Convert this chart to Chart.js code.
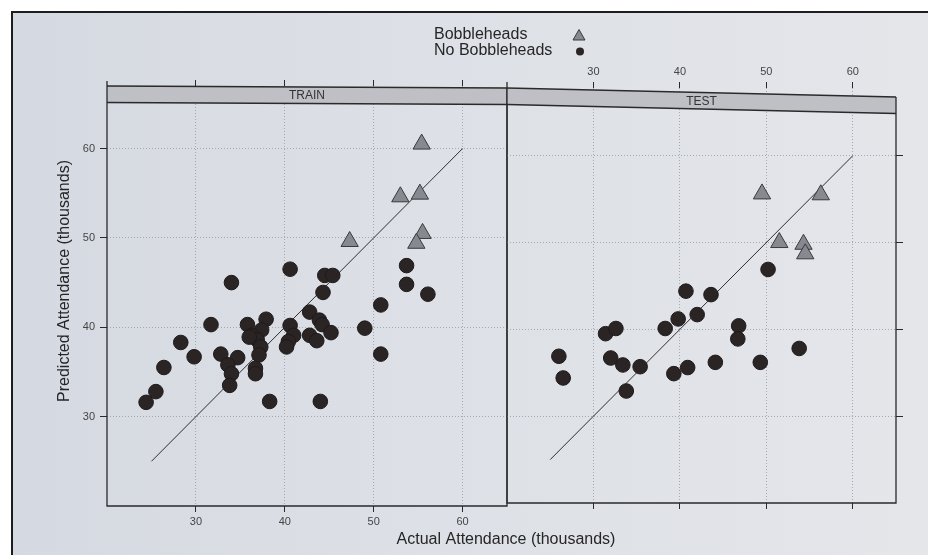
<!DOCTYPE html>
<html>
<head>
<meta charset="utf-8">
<script src="https://cdn.jsdelivr.net/npm/chart.js@4.4.1/dist/chart.umd.min.js"></script>
<style>
  html, body { margin: 0; padding: 0; background: #fff; }
  #page { position: relative; width: 928px; height: 555px; overflow: hidden; }
  #paper {
    position: absolute; left: 11px; top: 11px; right: 0; bottom: 0;
    border-top: 2px solid #1e1e1e; border-left: 2px solid #1e1e1e;
    background: linear-gradient(90deg, #d5d9e1 0%, #dde0e6 45%, #e4e6ea 100%);
  }
  canvas { position: absolute; left: 0; top: 0; }
</style>
</head>
<body>
<div id="page">
  <div id="paper"></div>
  <canvas id="trainChart" width="928" height="555"></canvas>
  <canvas id="testChart" width="928" height="555"></canvas>
</div>
<script>
// ---- data (thousands) ----
const seriesNames = ['Bobbleheads', 'No Bobbleheads'];
const panelNames = ['TRAIN', 'TEST'];
const tickValues = [30, 40, 50, 60];
const refLine = [25, 60]; // y = x reference

const trainBobbleX = [55.4, 53.0, 55.2, 47.3, 55.5, 54.8];
const trainBobbleY = [60.5, 54.6, 54.9, 49.6, 50.5, 49.4];

const trainNoX = [40.6, 34.0, 44.5, 45.4, 44.3, 53.7, 53.7, 56.1, 50.8, 42.8, 43.9,
                  44.2, 45.2, 49.0, 31.7, 35.8, 37.9, 37.4, 36.3, 36.9, 37.3, 40.6,
                  41.0, 40.4, 40.2, 42.8, 43.6, 37.1, 28.3, 29.8, 32.8, 34.7, 33.6,
                  34.0, 36.7, 36.7, 33.8, 26.4, 25.5, 24.4, 38.3, 44.0, 50.8, 36.0];
const trainNoY = [46.5, 45.0, 45.8, 45.8, 43.9, 46.9, 44.8, 43.7, 42.5, 41.7, 40.8,
                  40.3, 39.4, 39.9, 40.3, 40.3, 40.9, 39.7, 39.1, 38.6, 37.8, 40.2,
                  39.1, 38.4, 37.8, 39.1, 38.5, 36.9, 38.3, 36.7, 37.0, 36.6, 35.8,
                  34.8, 35.4, 34.8, 33.5, 35.5, 32.8, 31.6, 31.7, 31.7, 37.0, 38.9];

const testBobbleX = [49.5, 56.3, 51.5, 54.3, 54.5];
const testBobbleY = [55.6, 55.5, 50.0, 49.8, 48.7];

const testNoX = [50.2, 40.7, 43.6, 39.8, 42.0, 38.3, 46.8, 46.7, 31.4, 32.6, 26.0,
                 26.5, 32.0, 33.4, 35.4, 33.8, 39.3, 40.9, 44.1, 49.3, 53.8];
const testNoY = [46.9, 44.4, 44.0, 41.2, 41.7, 40.1, 40.4, 38.9, 39.5, 40.1, 36.9,
                 34.4, 36.7, 35.9, 35.7, 32.9, 34.9, 35.6, 36.2, 36.2, 37.8];

// ---- helpers ----
const FONT = "'Liberation Sans', Arial, Helvetica, sans-serif";
const INK = '#2a2a2a';
const TRI_FILL = '#868990';
const DOT_FILL = '#2b2424';

const toPoints = (xs, ys) => xs.map((x, i) => ({ x: x, y: ys[i] }));

function fixTicks(scale) {
    scale.ticks = tickValues.map(v => ({ value: v }));
}

function panelDatasets(bx, by, nx, ny) {
    return [
        {
            label: seriesNames[0],
            data: toPoints(bx, by),
            pointStyle: 'triangle',
            pointRadius: 10,
            pointHoverRadius: 10,
            backgroundColor: TRI_FILL,
            borderColor: '#3a3a3a',
            borderWidth: 1
        },
        {
            label: seriesNames[1],
            data: toPoints(nx, ny),
            pointStyle: 'circle',
            pointRadius: 7.3,
            pointHoverRadius: 7.3,
            backgroundColor: DOT_FILL,
            borderColor: '#1e1a1a',
            borderWidth: 1
        },
        {
            label: 'reference',
            data: toPoints(refLine, refLine),
            showLine: true,
            pointRadius: 0,
            borderColor: '#2e2e2e',
            borderWidth: 1
        }
    ];
}

// one axis, dotted grid inside the panel, solid tick marks outside
function axis(position, min, max, opts) {
    return {
        type: 'linear',
        position: position,
        min: min,
        max: max,
        afterBuildTicks: fixTicks,
        afterFit: opts.fit,
        grid: {
            drawOnChartArea: opts.grid,
            color: '#a4a8af',
            lineWidth: 1,
            tickLength: opts.tick,
            tickColor: INK,
            tickWidth: 1,
            tickBorderDash: []
        },
        border: { display: false, dash: [1, 2] },
        ticks: {
            display: opts.labels,
            color: '#454545',
            padding: opts.pad || 4,
            font: { family: FONT, size: 11 }
        }
    };
}

// strip, frame, titles and key
const panelDecor = {
    id: 'panelDecor',
    beforeDatasetsDraw(chart, args, opts) {
        const ctx = chart.ctx;
        const { left, right, top } = chart.chartArea;
        const y0 = top + opts.skew[0];
        const y1 = top + opts.skew[1];
        const h = 16.5;
        ctx.save();
        ctx.beginPath();
        ctx.moveTo(left, y0);
        ctx.lineTo(right, y1);
        ctx.lineTo(right, y1 + h);
        ctx.lineTo(left, y0 + h);
        ctx.closePath();
        ctx.fillStyle = '#bec0c5';
        ctx.fill();
        ctx.strokeStyle = INK;
        ctx.lineWidth = 1.3;
        ctx.beginPath();
        ctx.moveTo(left, y0); ctx.lineTo(right, y1);
        ctx.moveTo(left, y0 + h); ctx.lineTo(right, y1 + h);
        ctx.stroke();
        ctx.font = '12px ' + FONT;
        ctx.fillStyle = '#333';
        ctx.textAlign = 'center';
        ctx.textBaseline = 'middle';
        ctx.fillText(opts.label, (left + right) / 2, (y0 + y1) / 2 + h / 2 + 0.5);
        ctx.restore();
    },
    afterDatasetsDraw(chart, args, opts) {
        const ctx = chart.ctx;
        const { left, right, top, bottom } = chart.chartArea;
        ctx.save();
        ctx.strokeStyle = INK;
        ctx.lineWidth = 1.3;
        ctx.beginPath();
        ctx.moveTo(left, top + opts.skew[0] - opts.overhang[0]);
        ctx.lineTo(left, bottom);
        ctx.lineTo(right, bottom);
        ctx.lineTo(right, top + opts.skew[1] - opts.overhang[1]);
        ctx.stroke();
        ctx.restore();
    },
    afterDraw(chart, args, opts) {
        if (!opts.titles) return;
        const ctx = chart.ctx;
        ctx.save();
        ctx.fillStyle = '#262626';
        ctx.font = '16px ' + FONT;
        ctx.textAlign = 'center';
        ctx.textBaseline = 'middle';
        ctx.fillText('Actual Attendance (thousands)', 506, 540);
        ctx.translate(65, 281);
        ctx.rotate(-Math.PI / 2);
        ctx.fillText('Predicted Attendance (thousands)', 0, 0);
        ctx.restore();

        // key
        ctx.save();
        ctx.font = '16px ' + FONT;
        ctx.fillStyle = '#262626';
        ctx.textAlign = 'left';
        ctx.textBaseline = 'middle';
        ctx.fillText(seriesNames[0], 434, 35);
        ctx.fillText(seriesNames[1], 434, 51);
        ctx.beginPath();
        ctx.moveTo(579, 29.5);
        ctx.lineTo(585, 40);
        ctx.lineTo(573, 40);
        ctx.closePath();
        ctx.fillStyle = TRI_FILL;
        ctx.strokeStyle = '#3a3a3a';
        ctx.lineWidth = 1;
        ctx.fill();
        ctx.stroke();
        ctx.beginPath();
        ctx.arc(580, 51.5, 4, 0, Math.PI * 2);
        ctx.fillStyle = DOT_FILL;
        ctx.fill();
        ctx.restore();
    }
};

Chart.register(panelDecor);

// TRAIN panel: labels bottom/left
new Chart(document.getElementById('trainChart'), {
    type: 'scatter',
    data: { datasets: panelDatasets(trainBobbleX, trainBobbleY, trainNoX, trainNoY) },
    options: {
        responsive: false,
        animation: false,
        events: [],
        layout: { autoPadding: false, padding: { left: 0, top: 0, right: 421, bottom: 0 } },
        scales: {
            x: axis('bottom', 20, 65, { grid: true, tick: 6, labels: true, pad: 3, fit: s => { s.height = 49; } }),
            xTop: axis('top', 20, 65, { grid: false, tick: 6, labels: false, fit: s => { s.height = 86; } }),
            y: axis('left', 20, 67, { grid: true, tick: 7, labels: true, pad: 5, fit: s => { s.width = 107; } })
        },
        plugins: {
            legend: { display: false },
            tooltip: { enabled: false },
            panelDecor: { label: panelNames[0], skew: [0, 2], overhang: [5, 6], titles: true }
        }
    }
});

// TEST panel: labels top, ticks only bottom/right
new Chart(document.getElementById('testChart'), {
    type: 'scatter',
    data: { datasets: panelDatasets(testBobbleX, testBobbleY, testNoX, testNoY) },
    options: {
        responsive: false,
        animation: false,
        events: [],
        layout: { autoPadding: false, padding: { left: 507, top: 0, right: 0, bottom: 0 } },
        scales: {
            x: axis('top', 20, 65, { grid: true, tick: 6, labels: true, pad: 3, fit: s => { s.height = 88; } }),
            xBot: axis('bottom', 20, 65, { grid: false, tick: 6, labels: false, fit: s => { s.height = 52; } }),
            y: axis('right', 20, 67.8, { grid: true, tick: 7, labels: false, fit: s => { s.width = 32; } })
        },
        plugins: {
            legend: { display: false },
            tooltip: { enabled: false },
            panelDecor: { label: panelNames[1], skew: [0, 9], overhang: [0, 0], titles: false }
        }
    }
});
</script>
</body>
</html>
